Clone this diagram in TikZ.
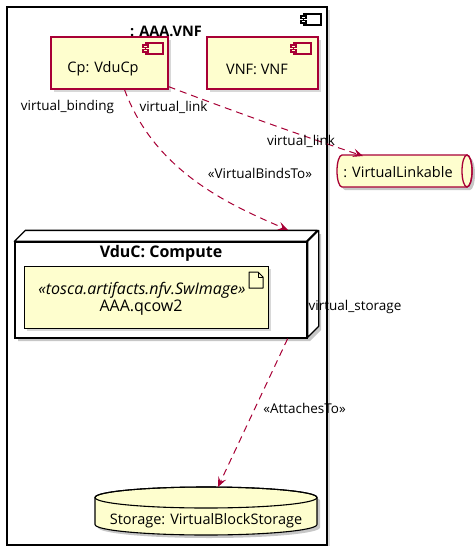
\documentclass[tikz,border=0pt]{standalone}
\usepackage{fontspec}
\setmainfont{Open Sans}
\usetikzlibrary{shadows,arrows.meta,calc}
\definecolor{umlfill}{HTML}{FEFECE}
\definecolor{umlline}{HTML}{A80036}
\begin{document}
\begin{tikzpicture}[x=1pt,y=-1pt,
  shad/.style={drop shadow={opacity=0.3,shadow xshift=3pt,shadow yshift=-3pt}},
  compbox/.style={draw=umlline, fill=umlfill, line width=1.3pt, inner sep=0pt, shad},
  nodetxt/.style={inner sep=0pt, font=\fontsize{14.5}{17}\selectfont},
  arttxt/.style={inner sep=0pt, font=\fontsize{16}{19}\selectfont},
  boldtxt/.style={inner sep=0pt, font=\fontsize{14.5}{17}\selectfont\bfseries},
  lbl/.style={inner sep=0pt, font=\fontsize{13.5}{16}\selectfont},
  dep/.style={draw=umlline, line width=1pt, dash pattern=on 7pt off 5pt, -{Stealth[length=10pt,width=8.5pt,inset=4pt]}},
  shadowfill/.style={fill=black, opacity=0.22},
  pics/compicon/.style={code={
    \draw[line width=1.1pt, fill=#1] (2.5,0) rectangle (20,11);
    \draw[line width=1.1pt, fill=#1] (0,2) rectangle (5,4.5);
    \draw[line width=1.1pt, fill=#1] (0,6.5) rectangle (5,9);
  }}
]
\useasboundingbox (0,0) rectangle (474,546);

% outer component
\node[draw, line width=1.8pt, fill=white, minimum width=320pt, minimum height=538pt, inner sep=0pt, shad] (vnf) at (167,276) {};
\pic[draw=black] at (301,14) {compicon=white};
\node[boldtxt] (vnftitle) at (166,31) {: AAA.VNF};

% Cp: VduCp
\node[compbox, minimum width=117pt, minimum height=52pt] (cp) at (109.5,63) {};
\pic[draw=umlline] at (143,43) {compicon=umlfill};
\node[nodetxt] (cptext) at (103,69) {Cp: VduCp};

% VNF: VNF
\node[compbox, minimum width=111pt, minimum height=52pt] (vnfc) at (262.5,63) {};
\pic[draw=umlline] at (291,43) {compicon=umlfill};
\node[nodetxt] (vnftext) at (257,69) {VNF: VNF};

% Compute node (3D box)
\fill[shadowfill] (18,245) -- (29,234) -- (321,234) -- (321,330) -- (310,341) -- (18,341) -- cycle;
\node[draw, fill=white, line width=1.3pt, minimum width=292pt, minimum height=96pt, inner sep=0pt] (compute) at (161,290) {};
\draw[line width=1.3pt, fill=white, line join=round] (compute.north west) -- ++(11,-11) -- ++(292,0) -- ++(-11,11) -- cycle;
\draw[line width=1.3pt, fill=white, line join=round] (compute.north east) -- ++(11,-11) -- ++(0,96) -- ++(-11,11) -- cycle;
\node[boldtxt, font=\fontsize{16}{19}\selectfont\bfseries] (computetitle) at (161,253) {VduC: Compute};

% artifact
\node[draw, fill=umlfill, line width=1pt, minimum width=244pt, minimum height=62pt, inner sep=0pt, shad] (art) at (146,297) {};
\draw[line width=1pt, fill=umlfill, line join=round] (249,272) -- (258,272) -- (263,277) -- (263,288) -- (249,288) -- cycle;
\draw[line width=1pt, line join=round] (258,272) -- (258,277) -- (263,277);
\node[arttxt, font=\fontsize{16}{19}\selectfont\itshape] (arttype) at (142,290) {«tosca.artifacts.nfv.SwImage»};
\node[arttxt] (artname) at (141,308) {AAA.qcow2};

% queue : VirtualLinkable
\fill[shadowfill] (345,158) -- (470,158) arc[start angle=-90, end angle=90, x radius=5, y radius=16] -- (345,190) arc[start angle=90, end angle=270, x radius=5, y radius=16] -- cycle;
\draw[draw=umlline, fill=umlfill, line width=1.3pt] (342,155) -- (467,155) arc[start angle=-90, end angle=90, x radius=5, y radius=16] -- (342,187) arc[start angle=90, end angle=270, x radius=5, y radius=16] -- cycle;
\draw[draw=umlline, line width=1.3pt] (467,171) ellipse[x radius=5, y radius=16];
\node[nodetxt] (queue) at (398,172) {: VirtualLinkable};

% storage cylinder
\fill[shadowfill] (98,500.5) -- (98,527.5) arc[start angle=180, end angle=0, x radius=111, y radius=10.5] -- (320,500.5) arc[start angle=0, end angle=-180, x radius=111, y radius=10.5] -- cycle;
\draw[fill=umlfill, line width=1.1pt] (95,497.5) -- (95,524.5) arc[start angle=180, end angle=0, x radius=111, y radius=10.5] -- (317,497.5) arc[start angle=0, end angle=-180, x radius=111, y radius=10.5] -- cycle;
\draw[line width=1.1pt] (206,497.5) ellipse[x radius=111, y radius=10.5];
\node[nodetxt] (storage) at (206,521) {Storage: VirtualBlockStorage};

% connector ends
\coordinate (qtip) at (363,156);
\coordinate (ctip) at (288,230);
\coordinate (stip) at (218,487);

% connectors
\draw[dep] ($(cp.south east)+(0,-3)$) .. controls (230,110) and (300,135) .. (qtip);
\draw[dep] ($(cp.south)+(15,0)$) .. controls (155,172) and (230,205) .. (ctip);
\draw[dep] ($(compute.south east)+(-20,0)$) -- (stip);

% labels
\node[lbl] (lvb) at (67.5,107) {virtual\_binding};
\node[lbl] (lvl1) at (173.5,107) {virtual\_link};
\node[lbl] (lvl2) at (301,141) {virtual\_link};
\node[lbl] (lbind) at (260,173) {«VirtualBindsTo»};
\node[lbl] (lvs) at (355,307) {virtual\_storage};
\node[lbl] (latt) at (304.5,408) {«AttachesTo»};
\end{tikzpicture}
\end{document}
